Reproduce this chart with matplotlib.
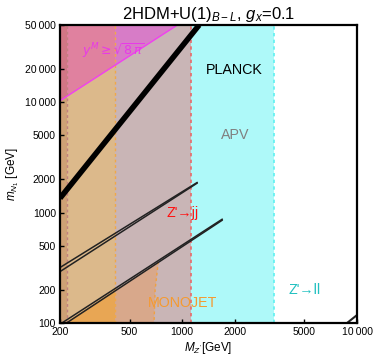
import numpy as np
import matplotlib
matplotlib.use('Agg')
import matplotlib.pyplot as plt

plt.rcParams['font.family'] = ['Liberation Sans', 'DejaVu Sans']
plt.rcParams['mathtext.fontset'] = 'custom'
plt.rcParams['mathtext.rm'] = 'Liberation Sans'
plt.rcParams['mathtext.it'] = 'Liberation Sans:italic'

# axis ranges / ticks
x_ticks = [200, 500, 1000, 2000, 5000, 10000]
x_ticklabels = ['200', '500', '1000', '2000', '5000', '10\u2009000']
y_ticks = [100, 200, 500, 1000, 2000, 5000, 10000, 20000, 50000]
y_ticklabels = ['100', '200', '500', '1000', '2000', '5000',
                '10\u2009000', '20\u2009000', '50\u2009000']

# excluded regions (M_Z' boundaries, GeV)
strip_edge = 219
monojet_edge = 413
zjj_edge = 1120
zll_edge = 3350

# monojet extension below the lower double line
mono_ext_M = [413, 730, 700, 690, 413]
mono_ext_m = [199, 359, 200, 100, 100]
mono_low_M = [213, 413, 413]
mono_low_m = [100, 199, 100]

# perturbativity line  y^M >= sqrt(8 pi)
pert_M = [200, 940]
pert_m = [10300, 50000]

# thick band
band_M = [200, 1250]
band_m = [1350, 50000]

# double lines
lineA1_M, lineA1_m = [200, 1216], [318, 1870]
lineA2_M, lineA2_m = [200, 1216], [292, 1845]
lineB1_M, lineB1_m = [205, 1692], [100, 870]
lineB2_M, lineB2_m = [218, 1692], [100, 852]
lineC_M, lineC_m = [8770, 10000], [100, 118]

fig = plt.figure(figsize=(3.74, 3.60), dpi=100)
ax = fig.add_axes([60/374, 1-323/360, 297/374, 298/360])
ax.set_xscale('log')
ax.set_yscale('log')
ax.set_xlim(200, 10000)
ax.set_ylim(100, 50000)

ylo, yhi = 100, 50000
ax.fill_betweenx([ylo, yhi], zjj_edge, zll_edge, color='#aef9f9', lw=0)
ax.fill_betweenx([ylo, yhi], 200, zjj_edge, color='#c9b5b6', lw=0)
ax.fill_betweenx([ylo, yhi], 200, monojet_edge, color='#dcb98b', lw=0)
ax.fill(mono_ext_M, mono_ext_m, color='#d8a88b', lw=0)
ax.fill(mono_low_M, mono_low_m, color='#e8a654', lw=0)

# pink region above perturbativity line
pm = np.array(pert_M, float)
pv = np.array(pert_m, float)
slope = np.log(pv[1]/pv[0]) / np.log(pm[1]/pm[0])
m_at_edge = pv[0] * (monojet_edge/pm[0])**slope
ax.fill([200, monojet_edge, monojet_edge, 200], [pv[0], m_at_edge, yhi, yhi],
        color='#e0819f', lw=0)
ax.fill([monojet_edge, pm[1], monojet_edge], [m_at_edge, yhi, yhi],
        color='#d77cc7', lw=0)

# left strip overlay
ax.fill_betweenx([ylo, yhi], 200, strip_edge, color='#a0502a', alpha=0.22, lw=0)

# dashed boundaries
ax.axvline(strip_edge, color='#c08080', ls=(0, (2, 2)), lw=1.0)
ax.axvline(monojet_edge, color='#f0a848', ls=(0, (2, 2)), lw=1.0)
ax.plot(mono_ext_M[1:4], mono_ext_m[1:4], color='#f0a040', ls=(0, (2, 2)), lw=1.0)
ax.axvline(zjj_edge, color='#e86a6a', ls=(0, (2, 2)), lw=1.2)
ax.axvline(zll_edge, color='#60f0f0', ls=(0, (2, 2)), lw=1.2)

ax.plot(pert_M, pert_m, color='#f040f0', lw=1.0)
ax.plot(band_M, band_m, color='black', lw=4.0, solid_capstyle='butt')
for xs, ys in [(lineA1_M, lineA1_m), (lineA2_M, lineA2_m),
               (lineB1_M, lineB1_m), (lineB2_M, lineB2_m)]:
    ax.plot(xs, ys, color='#222222', lw=1.1)
ax.plot(lineC_M, lineC_m, color='#222222', lw=1.5)

# labels
ax.text(400, 29000, r'$y^M\geq\sqrt{8\,\pi}$', color='#e83ae8', fontsize=9,
        ha='center', va='center', math_fontfamily='dejavusans')
ax.text(2000, 19500, 'PLANCK', color='black', fontsize=10.3, ha='center', va='center')
ax.text(2000, 5000, 'APV', color='#808080', fontsize=10.3, ha='center', va='center')
ax.text(1000, 990, "Z'\u2192jj", color='#ff1010', fontsize=10.3, ha='center', va='center')
ax.text(1000, 152, 'MONOJET', color='#f59a30', fontsize=10.3, ha='center', va='center')
ax.text(4980, 199, "Z'\u2192ll", color='#20c0c0', fontsize=10.3, ha='center', va='center')

ax.set_xticks(x_ticks)
ax.set_xticklabels(x_ticklabels)
ax.set_yticks(y_ticks)
ax.set_yticklabels(y_ticklabels)
ax.xaxis.set_minor_locator(matplotlib.ticker.NullLocator())
ax.yaxis.set_minor_locator(matplotlib.ticker.NullLocator())
ax.tick_params(direction='in', length=3, width=1, labelsize=7.5, pad=3)
for s in ax.spines.values():
    s.set_linewidth(1.6)
    s.set_color('black')

ax.set_title(r'2HDM+U(1)$_{B-L}$, $g_x$=0.1', fontsize=12, pad=4)
ax.set_xlabel(r"$M_{Z'}$[GeV]", fontsize=8.5, labelpad=2)
ax.set_ylabel(r'$m_{N_1}$ [GeV]', fontsize=8.5, labelpad=3)

fig.savefig('out.png', dpi=100)
